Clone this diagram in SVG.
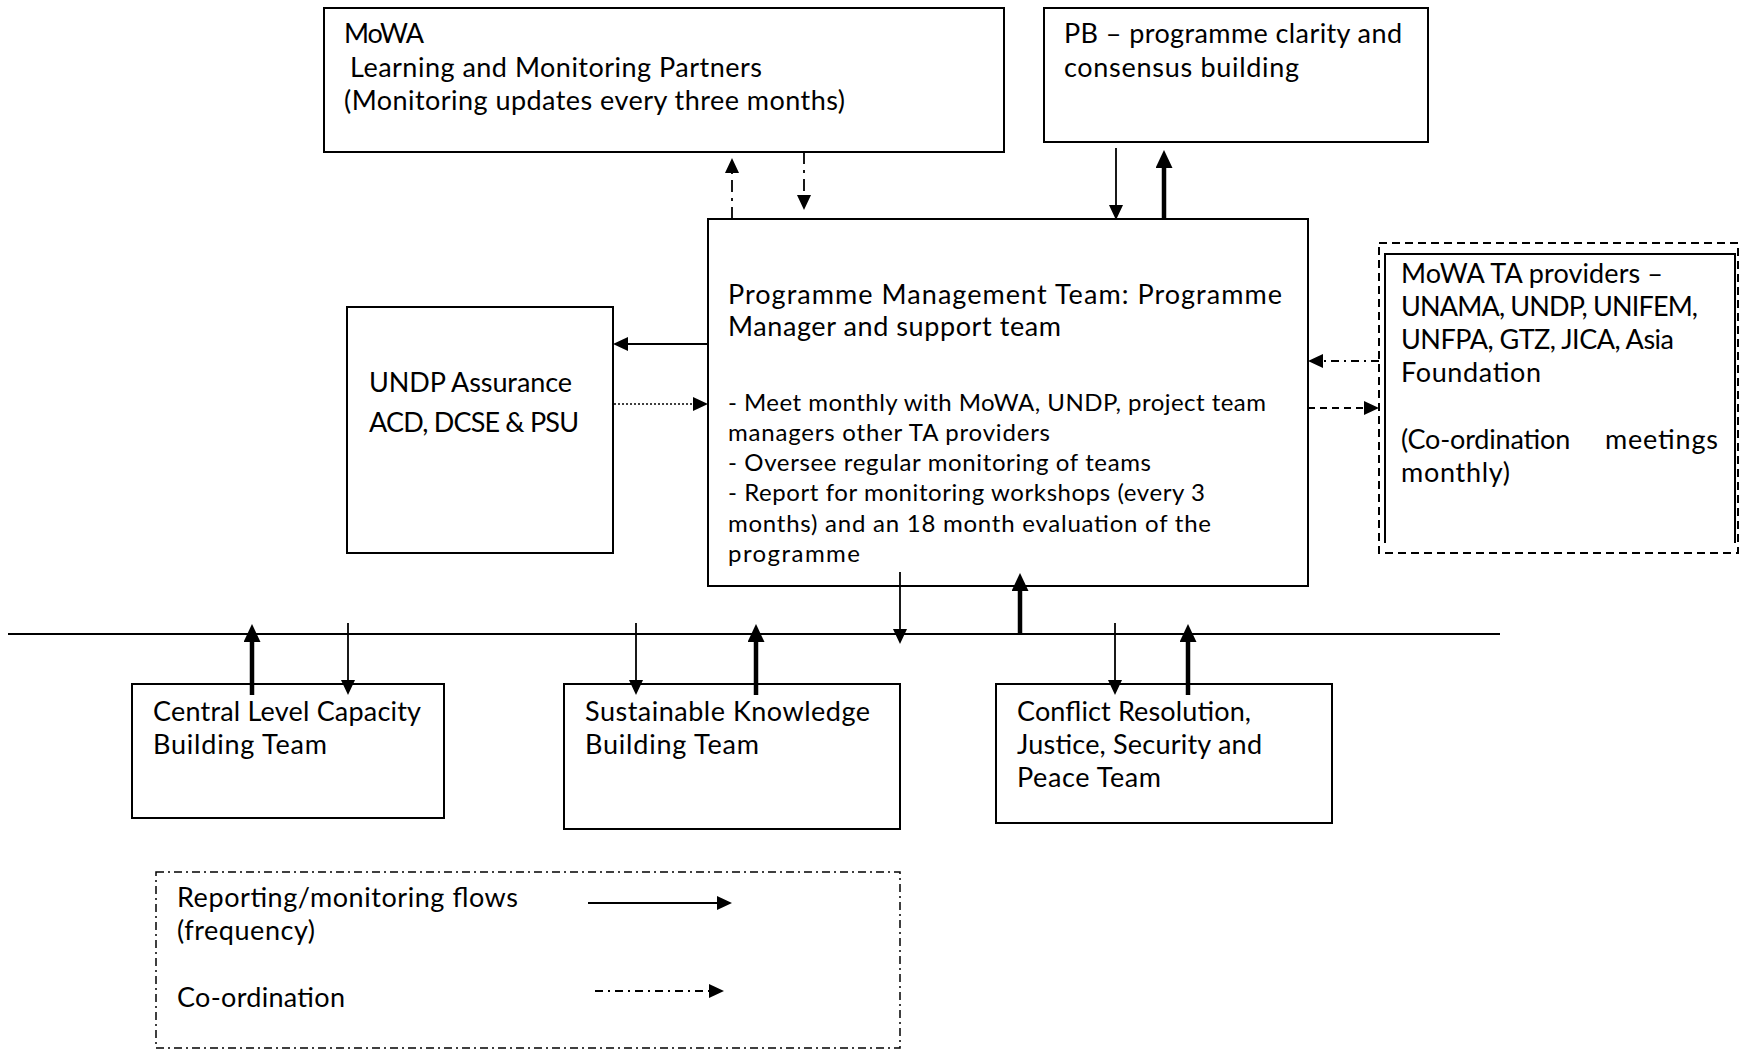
<svg xmlns="http://www.w3.org/2000/svg" width="1740" height="1050" viewBox="0 0 1740 1050">
<style>
  .box { fill: #ffffff; stroke: #000000; stroke-width: 2; }
  .t { font-family: Lato, "Liberation Sans", sans-serif; font-size: 27px; fill: #000000; }
  .s { font-family: Lato, "Liberation Sans", sans-serif; font-size: 24px; fill: #000000; }
  .ln { fill: none; stroke: #000000; stroke-width: 1.8; }
  .thick { fill: none; stroke: #000000; stroke-width: 4.5; }
  .dashdot { stroke-dasharray: 12 6 3 6; }
  .dashdot2 { stroke-dasharray: 8 5 2 5; }
  .dashed { stroke-dasharray: 7 5; }
  .dotted { stroke-dasharray: 2 2; stroke-width: 1.5; }
</style>
<defs>
  <marker id="ah" viewBox="0 0 15 14" markerWidth="15" markerHeight="14" refX="0" refY="7" orient="auto" markerUnits="userSpaceOnUse">
    <path d="M0,0 L15,7 L0,14 z" fill="#000000"/>
  </marker>
  <marker id="ahT" viewBox="0 0 18 17" markerWidth="18" markerHeight="17" refX="0" refY="8.5" orient="auto" markerUnits="userSpaceOnUse">
    <path d="M0,0 L18,8.5 L0,17 z" fill="#000000"/>
  </marker>
</defs>
<rect x="0" y="0" width="1740" height="1050" fill="#ffffff"/>

<g id="mowa-partners">
  <rect class="box" x="324" y="8" width="680" height="144"/>
  <text class="t" x="344" y="43" textLength="80">MoWA</text>
  <text class="t" x="350" y="77" textLength="412">Learning and Monitoring Partners</text>
  <text class="t" x="344" y="110" textLength="501">(Monitoring updates every three months)</text>
</g>

<g id="pb">
  <rect class="box" x="1044" y="8" width="384" height="134"/>
  <text class="t" x="1064" y="43" textLength="338">PB – programme clarity and</text>
  <text class="t" x="1064" y="77" textLength="235">consensus building</text>
</g>

<g id="pmt">
  <rect class="box" x="708" y="219" width="600" height="367"/>
  <text class="t" x="728" y="304" textLength="554">Programme Management Team:  Programme</text>
  <text class="t" x="728" y="336" textLength="333">Manager and support team</text>
  <text class="s" x="728" y="411" textLength="538">- Meet monthly with MoWA, UNDP, project team</text>
  <text class="s" x="728" y="441" textLength="322">managers other TA providers</text>
  <text class="s" x="728" y="471" textLength="423">- Oversee regular monitoring of teams</text>
  <text class="s" x="728" y="501" textLength="477">- Report for monitoring workshops (every 3</text>
  <text class="s" x="728" y="532" textLength="483">months) and an 18 month evaluation of the</text>
  <text class="s" x="728" y="562" textLength="132">programme</text>
</g>

<g id="undp-assurance">
  <rect class="box" x="347" y="307" width="266" height="246"/>
  <text class="t" x="369" y="392" textLength="203">UNDP Assurance</text>
  <text class="t" x="369" y="432" textLength="210">ACD, DCSE &amp; PSU</text>
</g>

<g id="ta-providers">
  <rect x="1379" y="243" width="359" height="310" fill="#ffffff" stroke="#000000" stroke-width="2" stroke-dasharray="8 5"/>
  <path d="M1385,543 V254 H1735 V543" fill="none" stroke="#000000" stroke-width="2"/>
  <text class="t" x="1401" y="283" textLength="262">MoWA TA providers –</text>
  <text class="t" x="1401" y="316" textLength="297">UNAMA, UNDP, UNIFEM,</text>
  <text class="t" x="1401" y="349" textLength="273">UNFPA, GTZ, JICA, Asia</text>
  <text class="t" x="1401" y="382" textLength="140">Foundation</text>
  <text class="t" y="449"><tspan x="1401" textLength="176">(Co-ordination </tspan><tspan x="1605" textLength="113">meetings</tspan></text>
  <text class="t" x="1401" y="482" textLength="109">monthly)</text>
</g>

<g id="team-central">
  <rect class="box" x="132" y="684" width="312" height="134"/>
  <text class="t" x="153" y="721" textLength="268">Central Level Capacity</text>
  <text class="t" x="153" y="754" textLength="174">Building Team</text>
</g>

<g id="team-knowledge">
  <rect class="box" x="564" y="684" width="336" height="145" stroke-width="3"/>
  <text class="t" x="585" y="721" textLength="285">Sustainable Knowledge</text>
  <text class="t" x="585" y="754" textLength="174">Building Team</text>
</g>

<g id="team-conflict">
  <rect class="box" x="996" y="684" width="336" height="139"/>
  <text class="t" x="1017" y="721" textLength="234">Conflict Resolution,</text>
  <text class="t" x="1017" y="754" textLength="245">Justice, Security and</text>
  <text class="t" x="1017" y="787" textLength="144">Peace Team</text>
</g>

<g id="legend">
  <rect x="156" y="872" width="744" height="176" fill="none" stroke="#000000" stroke-width="1.5" stroke-dasharray="8 4 2 4"/>
  <text class="t" x="177" y="907" textLength="341">Reporting/monitoring flows</text>
  <text class="t" x="177" y="940" textLength="138">(frequency)</text>
  <text class="t" x="177" y="1007" textLength="168">Co-ordination</text>
  <path class="ln" d="M588,903 H717" stroke-width="2.5" marker-end="url(#ah)"/>
  <path class="ln dashdot2" d="M595,991 H709" stroke-width="1.5" marker-end="url(#ah)"/>
</g>

<g id="connectors">
  <!-- MoWA partners <-> PMT -->
  <path class="ln dashdot" d="M732,219 V173" marker-end="url(#ah)"/>
  <path class="ln dashdot" d="M804,152 V195" marker-end="url(#ah)"/>
  <!-- PB <-> PMT -->
  <path class="ln" d="M1116,148 V205" marker-end="url(#ah)"/>
  <path class="thick" d="M1164,219 V168" marker-end="url(#ahT)"/>
  <!-- UNDP <-> PMT -->
  <path class="ln" d="M708,344 H628" marker-end="url(#ah)"/>
  <path class="ln dotted" d="M614,404 H693" marker-end="url(#ah)"/>
  <!-- TA providers <-> PMT -->
  <path class="ln dashdot2" d="M1379,361 H1323" marker-end="url(#ah)"/>
  <path class="ln dashed" d="M1308,408 H1364" marker-end="url(#ah)"/>
  <!-- bus line -->
  <path class="ln" d="M8,634 H1500"/>
  <!-- PMT <-> bus -->
  <path class="ln" d="M900,572 V629" marker-end="url(#ah)"/>
  <path class="thick" d="M1020,634 V591" marker-end="url(#ahT)"/>
  <!-- Central -->
  <path class="thick" d="M252,695 V642" marker-end="url(#ahT)"/>
  <path class="ln" d="M348,623 V680" marker-end="url(#ah)"/>
  <!-- Knowledge -->
  <path class="ln" d="M636,623 V680" marker-end="url(#ah)"/>
  <path class="thick" d="M756,695 V642" marker-end="url(#ahT)"/>
  <!-- Conflict -->
  <path class="ln" d="M1115,623 V680" marker-end="url(#ah)"/>
  <path class="thick" d="M1188,695 V642" marker-end="url(#ahT)"/>
</g>
</svg>
